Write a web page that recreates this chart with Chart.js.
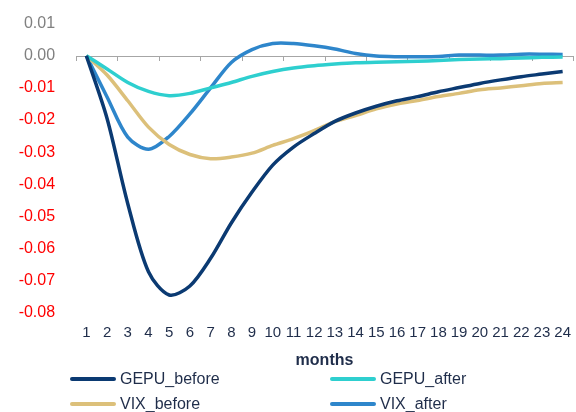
<!DOCTYPE html>
<html>
<head>
<meta charset="utf-8">
<script src="https://cdn.jsdelivr.net/npm/chart.js@4"></script>
<style>
    html, body { margin: 0; padding: 0; background: #fff; }
    #wrap { position: relative; width: 576px; height: 412px; overflow: hidden; font-family: "Liberation Sans", Arial, sans-serif; }
    #chartBox { position: absolute; left: 0; top: 0; width: 576px; height: 370px; }
    .leg { position: absolute; display: flex; align-items: center; font-size: 16px; color: #1F2D4A; white-space: nowrap; }
    .leg span.ln { display: inline-block; width: 46px; height: 4px; border-radius: 2px; margin-right: 4px; }
</style>
</head>
<body>
<div id="wrap">
    <div id="chartBox"><canvas id="irfChart"></canvas></div>
    <div id="legend"></div>
</div>
<script>
const months = ['1','2','3','4','5','6','7','8','9','10','11','12','13','14','15','16','17','18','19','20','21','22','23','24'];

const gepuBefore = [0, -0.0195, -0.046, -0.0672, -0.0744, -0.0716, -0.063, -0.052, -0.0424, -0.034, -0.0284, -0.0242,
    -0.0204, -0.0178, -0.0157, -0.0140, -0.0127, -0.0112, -0.0099, -0.0086, -0.0075, -0.0065, -0.0057, -0.0049];
const gepuAfter = [0, -0.0041, -0.0083, -0.0111, -0.0124, -0.0117, -0.0100, -0.0083, -0.0064, -0.0049, -0.0038, -0.0031,
    -0.0026, -0.0022, -0.0020, -0.0019, -0.0017, -0.0015, -0.0012, -0.0010, -0.0009, -0.0007, -0.0005, -0.0004];
const vixBefore = [0, -0.006, -0.014, -0.0222, -0.0276, -0.0307, -0.032, -0.0315, -0.0303, -0.0279, -0.0258, -0.0233,
    -0.0205, -0.0186, -0.0165, -0.0150, -0.0139, -0.0127, -0.0117, -0.0106, -0.0100, -0.0093, -0.0086, -0.0083];
const vixAfter = [0, -0.0128, -0.0253, -0.0291, -0.0251, -0.0181, -0.0100, -0.0021, 0.0019, 0.0038, 0.0038, 0.0031,
    0.0021, 0.0007, -0.0001, -0.0003, -0.0003, -0.0002, 0.0002, 0.0002, 0.0002, 0.0005, 0.0005, 0.0004];

const seriesNames = ['GEPU_before', 'GEPU_after', 'VIX_before', 'VIX_after'];
const seriesColors = ['#0B3A72', '#2ECFCF', '#DCC07A', '#2E86CB'];

const fontFamily = '"Liberation Sans", Arial, sans-serif';
const navyText = '#1F2D4A';

// zero line with small tick marks every two months, like the original axis
const zeroAxis = {
    id: 'zeroAxis',
    beforeDatasetsDraw(chart) {
        const ctx = chart.ctx;
        const area = chart.chartArea;
        const y0 = Math.round(chart.scales.y.getPixelForValue(0));
        const step = (area.right - area.left) / months.length;
        ctx.save();
        ctx.strokeStyle = '#A6A6A6';
        ctx.lineWidth = 1;
        ctx.beginPath();
        ctx.moveTo(area.left, y0 + 0.5);
        ctx.lineTo(area.right, y0 + 0.5);
        for (let k = 0; k <= months.length; k += 2) {
            const x = Math.round(area.left + k * step) + 0.5;
            ctx.moveTo(x, y0);
            ctx.lineTo(x, y0 + 5);
        }
        ctx.stroke();
        ctx.restore();
    }
};

const allSeries = [gepuBefore, gepuAfter, vixBefore, vixAfter];

const chart = new Chart(document.getElementById('irfChart'), {
    type: 'line',
    data: {
        labels: months,
        datasets: allSeries.map((vals, i) => ({
            label: seriesNames[i],
            data: vals,
            borderColor: seriesColors[i],
            backgroundColor: seriesColors[i],
            borderWidth: 3.5,
            pointRadius: 0,
            tension: 0.3,
            fill: false
        }))
    },
    options: {
        responsive: true,
        maintainAspectRatio: false,
        animation: false,
        layout: { padding: { left: 0, right: 3, top: 0, bottom: 0 } },
        plugins: {
            legend: { display: false },
            tooltip: { enabled: false }
        },
        scales: {
            x: {
                offset: true,
                grid: { display: false, drawTicks: false },
                border: { display: false },
                ticks: {
                    color: navyText,
                    font: { family: fontFamily, size: 15, lineHeight: '36px' },
                    maxRotation: 0,
                    autoSkip: false,
                    padding: 2
                },
                title: {
                    display: true,
                    text: 'months',
                    color: navyText,
                    font: { family: fontFamily, size: 16, weight: 'bold' },
                    padding: { top: 0, bottom: 0 }
                },
                afterFit: scale => { scale.height = 57; }
            },
            y: {
                min: -0.08,
                max: 0.01,
                grid: { display: false, drawTicks: false },
                border: { display: false },
                ticks: {
                    stepSize: 0.01,
                    padding: 12,
                    font: { family: fontFamily, size: 16, lineHeight: 1.45 },
                    color: ctx => ctx.tick.value < -0.0001 ? '#FF0000' : '#808080',
                    // trailing spaces keep the labels clear of the plot like the original
                    callback: v => v.toFixed(2) + '  '
                },
                afterFit: scale => { scale.width = 76; }
            }
        }
    },
    plugins: [zeroAxis]
});

// legend laid out in two columns like the original
const legendPos = [[70, 379], [330, 379], [70, 404], [330, 404]];
const legendEl = document.getElementById('legend');
seriesNames.forEach((name, i) => {
    const item = document.createElement('div');
    item.className = 'leg';
    item.style.left = legendPos[i][0] + 'px';
    item.style.top = (legendPos[i][1] - 10) + 'px';
    item.style.height = '20px';
    item.innerHTML = `<span class="ln" style="background:${seriesColors[i]}"></span>${name}`;
    legendEl.appendChild(item);
});
</script>
</body>
</html>
